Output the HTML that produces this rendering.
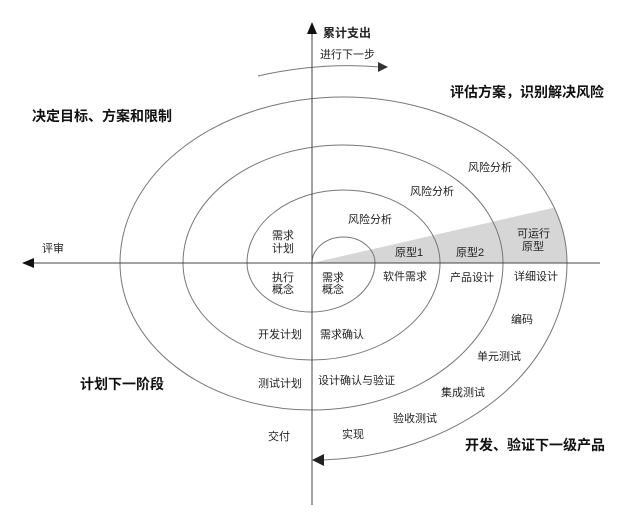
<!DOCTYPE html>
<html><head><meta charset="utf-8"><style>
html,body{margin:0;padding:0;background:#fff;}
svg{display:block;}
text{font-family:"Liberation Sans","Noto Sans CJK SC",sans-serif;font-size:11px;fill:#222;}
.b{font-weight:bold;font-size:14px;fill:#111;}
</style></head><body>
<svg width="629" height="512" viewBox="0 0 629 512">
<defs>
<clipPath id="c"><path d="M120,263 A223.5,166 0 0 1 567,263 Z"/></clipPath>
</defs>
<polygon points="312,263 640,188 640,263" fill="#d6d6d6" clip-path="url(#c)"/>
<g fill="none" stroke="#777" stroke-width="1">
<path d="M312,263 A31.5,26 0 0 1 375,263 A64,49 0 0 1 247,263 A96.5,73 0 0 1 440,263 A128.5,97 0 0 1 183,263 A160,118 0 0 1 503,263 A191.5,147 0 0 1 120,263 A223.5,166 0 0 1 567,263 A255,197 0 0 1 322,460"/>
<path d="M258,76 Q320,62 380,67"/>
</g>
<polygon points="312,460 324,454 324,466" fill="#222"/>
<polygon points="388,67 378,62 378,72" fill="#333"/>
<g stroke="#444" stroke-width="1">
<line x1="312" y1="30" x2="312" y2="505"/>
<line x1="30" y1="263" x2="600" y2="263"/>
</g>
<polygon points="312,22 307,34 317,34" fill="#111"/>
<polygon points="22,263 34,258 34,268" fill="#111"/>
<text x="323" y="37" style="font-weight:bold;font-size:12px">累计支出</text>
<text x="320" y="58">进行下一步</text>
<text class="b" x="32" y="121">决定目标、方案和限制</text>
<text class="b" x="450" y="97">评估方案，识别解决风险</text>
<text class="b" x="80" y="389">计划下一阶段</text>
<text class="b" x="465" y="450">开发、验证下一级产品</text>
<text x="42" y="252">评审</text>
<text x="468" y="171">风险分析</text>
<text x="410" y="195">风险分析</text>
<text x="348" y="223">风险分析</text>
<text x="272" y="239">需求</text><text x="272" y="252">计划</text>
<text x="395" y="256">原型1</text>
<text x="456" y="256">原型2</text>
<text x="517" y="237">可运行</text><text x="522" y="250">原型</text>
<text x="272" y="281">执行</text><text x="272" y="293">概念</text>
<text x="322" y="281">需求</text><text x="322" y="293">概念</text>
<text x="383" y="280">软件需求</text>
<text x="450" y="281">产品设计</text>
<text x="514" y="280">详细设计</text>
<text x="511" y="323">编码</text>
<text x="477" y="360">单元测试</text>
<text x="441" y="396">集成测试</text>
<text x="393" y="422">验收测试</text>
<text x="258" y="338">开发计划</text>
<text x="320" y="338">需求确认</text>
<text x="258" y="387">测试计划</text>
<text x="318" y="384">设计确认与验证</text>
<text x="268" y="440">交付</text>
<text x="342" y="438">实现</text>
</svg>
</body></html>
